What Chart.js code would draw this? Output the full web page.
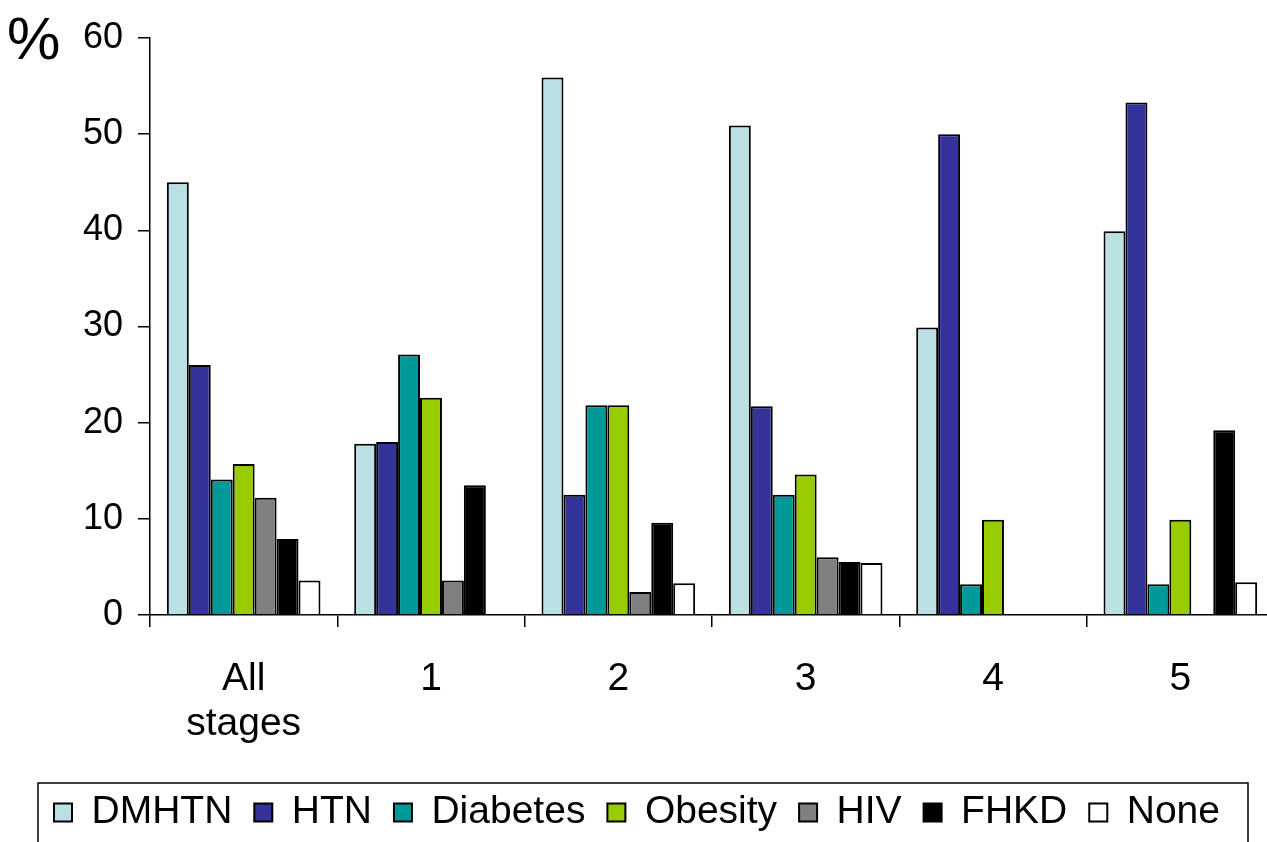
<!DOCTYPE html>
<html>
<head>
<meta charset="utf-8">
<script src="https://cdn.jsdelivr.net/npm/chart.js@4"></script>
<style>
  html, body { margin: 0; padding: 0; background: #fff; overflow: hidden; }
  #wrap { width: 1281px; height: 842px; }
</style>
</head>
<body>
<div id="wrap"><canvas id="chart"></canvas></div>
<script>
// categories
const stages = [['All', 'stages'], '1', '2', '3', '4', '5'];

// series values (%)
const dmhtn    = [45.0, 17.8, 55.9, 50.9, 29.9, 39.9];
const htn      = [26.0, 18.0, 12.5, 21.7, 50.0, 53.3];
const diabetes = [14.1, 27.1, 21.8, 12.5,  3.2,  3.2];
const obesity  = [15.7, 22.6, 21.8, 14.6,  9.9,  9.9];
const hiv      = [12.2,  3.6,  2.4,  6.0,  0,    0  ];
const fhkd     = [ 7.9, 13.5,  9.6,  5.5,  0,   19.2];
const none     = [ 3.6,  0,    3.3,  5.4,  0,    3.4];

const seriesNames  = ['DMHTN', 'HTN', 'Diabetes', 'Obesity', 'HIV', 'FHKD', 'None'];
const seriesData   = [dmhtn, htn, diabetes, obesity, hiv, fhkd, none];
const seriesColors = ['#BBE0E3', '#333399', '#009999', '#99CC00', '#808080', '#000000', '#FFFFFF'];

const yTicks = [0, 10, 20, 30, 40, 50, 60];

const FONT = "'Liberation Sans', Arial, sans-serif";

// "%" label at the top left and a frame around the legend
const extras = {
  id: 'extras',
  afterDraw(chart) {
    const ctx = chart.ctx;
    ctx.save();
    ctx.fillStyle = '#000';
    ctx.font = '60px ' + FONT;
    ctx.textAlign = 'left';
    ctx.textBaseline = 'middle';
    ctx.fillText('%', 7, chart.chartArea.top + 4);

    const lg = chart.legend;
    if (lg && lg.legendHitBoxes.length) {
      const boxes = lg.legendHitBoxes;
      const left = boxes[0].left - 16;
      const last = boxes[boxes.length - 1];
      const right = last.left + last.width + 28;
      const top = boxes[0].top - 10;
      ctx.strokeStyle = '#000';
      ctx.lineWidth = 1.5;
      ctx.strokeRect(left, top, right - left, 200);
    }
    ctx.restore();
  }
};

new Chart(document.getElementById('chart'), {
  type: 'bar',
  data: {
    labels: stages,
    datasets: seriesNames.map((name, i) => ({
      label: name,
      data: seriesData[i],
      backgroundColor: seriesColors[i],
      borderColor: '#000',
      borderWidth: 2,
      borderSkipped: 'start',
      categoryPercentage: 0.82,
      barPercentage: 1.0
    }))
  },
  options: {
    responsive: true,
    maintainAspectRatio: false,
    animation: false,
    layout: { padding: { top: 38, right: 7, left: 0, bottom: 0 } },
    scales: {
      x: {
        grid: { display: true, drawOnChartArea: false, drawTicks: true, tickLength: 12, color: '#000', lineWidth: 1.5, offset: true },
        border: { display: true, color: '#000', width: 1.5 },
        ticks: { color: '#000', font: { family: FONT, size: 39, lineHeight: 1.15 }, padding: 30, maxRotation: 0 },
        afterFit(scale) { scale.height = 156; }
      },
      y: {
        min: 0,
        max: 60,
        afterBuildTicks(scale) { scale.ticks = yTicks.map(v => ({ value: v })); },
        grid: { display: true, drawOnChartArea: false, drawTicks: true, tickLength: 12, color: '#000', lineWidth: 1.5 },
        border: { display: true, color: '#000', width: 1.5 },
        ticks: { color: '#000', font: { family: FONT, size: 36 }, padding: 15 },
        afterFit(scale) { scale.width = 150; }
      }
    },
    plugins: {
      legend: {
        position: 'bottom',
        labels: {
          color: '#000',
          font: { family: FONT, size: 39 },
          boxWidth: 18,
          boxHeight: 18,
          padding: 22,
          useBorderRadius: false
        }
      },
      tooltip: { enabled: false }
    }
  },
  plugins: [extras]
});
</script>
</body>
</html>
